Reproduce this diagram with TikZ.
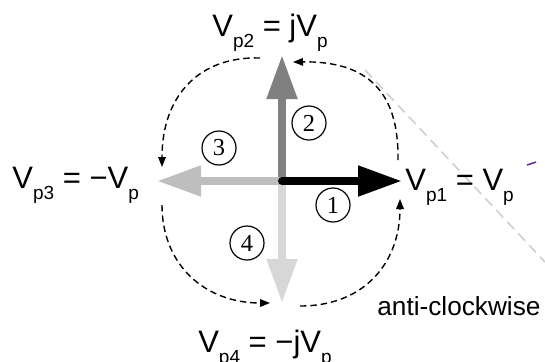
\documentclass[tikz,border=0pt]{standalone}
\usepackage{fontspec}
\setmainfont{Liberation Sans}
\newfontfamily\numfont{Liberation Serif}
\usetikzlibrary{arrows.meta}
\definecolor{PhaseGray}{RGB}{128,128,128}
\definecolor{PhaseSilver}{RGB}{190,190,190}
\definecolor{PhaseLight}{RGB}{215,215,215}
\definecolor{GuideGray}{RGB}{208,208,208}
\definecolor{MarkPurple}{RGB}{112,48,160}
\newcommand\psub[1]{\raisebox{-.37em}{\fontsize{9.5}{9.5}\selectfont #1}}
\tikzset{
  phasor/.style={line width=4pt,-{Triangle[length=22pt,width=14.5pt]}},
  turn/.style={line width=.7pt,dash pattern=on 3.2pt off 2pt,-{Triangle[length=5pt,width=3.8pt]}},
  vlabel/.style={inner sep=0pt,font=\fontsize{15.5}{18}\selectfont},
  circnum/.style={draw,circle,line width=.6pt,minimum size=17pt,inner sep=0pt,
    font=\numfont\fontsize{12.2}{12}\selectfont}
}

\begin{document}
\begin{tikzpicture}[x=.5pt,y=-.5pt]
  \useasboundingbox (0,0) rectangle (545,361);
  \coordinate (O) at (282,181);
  \coordinate (t1) at (402,181);
  \coordinate (t2) at (282,55);
  \coordinate (t3) at (157,181);
  \coordinate (t4) at (282,303);
  \coordinate (g1) at (365,70);
  \coordinate (g2) at (545,262);
  \draw[GuideGray,line width=.8pt,dash pattern=on 5pt off 3pt] (g1)--(g2);
  \draw[MarkPurple,line width=.8pt] (527,165)--(536,162);
  \draw[phasor,PhaseGray] (O)--(t2);
  \draw[phasor,PhaseLight] (O)--(t4);
  \draw[phasor,PhaseSilver] (O)--(t3);
  \draw[phasor,black,line cap=round] (O)--(t1);
  \node[circnum] (c1) at (333,205) {1};
  \node[circnum] (c2) at (309,123) {2};
  \node[circnum] (c3) at (219,148) {3};
  \node[circnum] (c4) at (247,243) {4};
  \node[vlabel,anchor=base west] (vp1) at (405,190) {V\psub{p1} = V\psub{p}};
  \node[vlabel,anchor=base] (vp2) at (270,36) {V\psub{p2} = jV\psub{p}};
  \node[vlabel,anchor=base west] (vp3) at (12,188) {V\psub{p3} = −V\psub{p}};
  \node[vlabel,anchor=base] (vp4) at (265,352) {V\psub{p4} = −jV\psub{p}};
  \node[inner sep=0pt,anchor=base west,font=\fontsize{13.1}{16}\selectfont] (dir) at (377,315) {anti-clockwise};
  \coordinate (a1) at (398,160); \coordinate (b1) at (293,62);
  \coordinate (a2) at (260,58);  \coordinate (b2) at (162,167);
  \coordinate (a3) at (162,205); \coordinate (b3) at (270,303);
  \coordinate (a4) at (300,306); \coordinate (b4) at (400,199);
  \draw[turn] (a1) .. controls (399,92) and (368,61) .. (b1);
  \draw[turn] (a2) .. controls (200,56) and (162,95) .. (b2);
  \draw[turn] (a3) .. controls (162,265) and (205,303) .. (b3);
  \draw[turn] (a4) .. controls (365,306) and (400,262) .. (b4);
\end{tikzpicture}
\end{document}
